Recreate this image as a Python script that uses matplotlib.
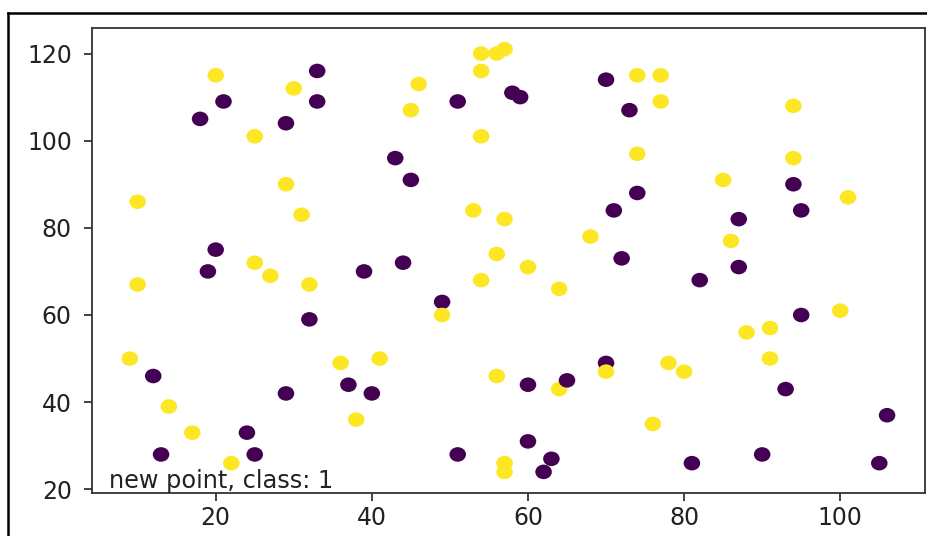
import numpy as np
import matplotlib
matplotlib.use("Agg")
import matplotlib.pyplot as plt
from matplotlib.lines import Line2D
from matplotlib.path import Path
from matplotlib.transforms import Affine2D

# Labelled training points: class 0 -> dark purple, class 1 -> yellow.
xs_0 = [33, 21, 33, 18, 29, 20, 51, 58, 59, 70, 73, 43, 45, 74, 71, 44, 72,
        94, 95, 87, 87, 19, 39, 32, 12, 24, 13, 25, 29, 37, 40, 49, 60, 65,
        70, 60, 63, 62, 51, 82, 95, 93, 106, 81, 90, 105]
ys_0 = [116, 109, 109, 105, 104, 75, 109, 111, 110, 114, 107, 96, 91, 88, 84,
        72, 73, 90, 84, 82, 71, 70, 70, 59, 46, 33, 28, 28, 42, 44, 42, 63,
        44, 45, 49, 31, 27, 24, 28, 68, 60, 43, 37, 26, 28, 26]

xs_1 = [20, 30, 25, 29, 10, 31, 25, 54, 56, 57, 54, 46, 45, 54, 74, 74, 53,
        57, 68, 56, 60, 77, 77, 94, 94, 85, 101, 86, 10, 27, 32, 9, 14, 17,
        22, 36, 38, 41, 54, 64, 49, 56, 64, 70, 76, 57, 57, 100, 88, 91, 91,
        78, 80]
ys_1 = [115, 112, 101, 90, 86, 83, 72, 120, 120, 121, 116, 113, 107, 101, 115,
        97, 84, 82, 78, 74, 71, 115, 109, 108, 96, 91, 87, 77, 67, 69, 67, 50,
        39, 33, 26, 49, 36, 50, 68, 66, 60, 46, 43, 47, 35, 26, 24, 61, 56,
        57, 50, 49, 47]

new_point_class = 1

# draw order: the (64, 43) yellow point sits under its purple neighbour,
# every other yellow point is drawn on top of the purple ones
k = list(zip(xs_1, ys_1)).index((64, 43))
x = [xs_1[k]] + xs_0 + xs_1[:k] + xs_1[k + 1:]
y = [ys_1[k]] + ys_0 + ys_1[:k] + ys_1[k + 1:]
labels = [1] + [0] * len(xs_0) + [1] * (len(xs_1) - 1)

plt.rcParams["font.family"] = "DejaVu Sans"

fig = plt.figure(figsize=(9.28, 5.36), dpi=100)
ax = fig.add_axes([0.0991, 0.0802, 0.8976, 0.8675])

# slightly wide elliptical dot
dot = Affine2D().scale(1.0, 0.88).transform_path(Path.unit_circle())
ax.scatter(x, y, c=labels, cmap="viridis", marker=dot, s=142, linewidths=0)

ax.text(0.0204, 0.011, f"new point, class: {new_point_class}",
        transform=ax.transAxes, fontsize=17.3, va="baseline", ha="left",
        color="#222222")

ax.tick_params(axis="both", labelsize=17, length=5.5, width=1.2,
               color="#222222", labelcolor="#222222")
ax.tick_params(axis="y", pad=9)
ax.tick_params(axis="x", pad=3.5)
for sp in ax.spines.values():
    sp.set_linewidth(1.3)
    sp.set_color("#333333")

# thin frame along the top and left edges of the figure
W, H = 928.0, 536.0
fig.add_artist(Line2D([8 / W, 1.0], [1 - 13 / H, 1 - 13 / H],
                      transform=fig.transFigure, color="black", lw=1.8))
fig.add_artist(Line2D([8 / W, 8 / W], [0.0, 1 - 13 / H],
                      transform=fig.transFigure, color="black", lw=1.8))

fig.savefig("out.png", dpi=100)
